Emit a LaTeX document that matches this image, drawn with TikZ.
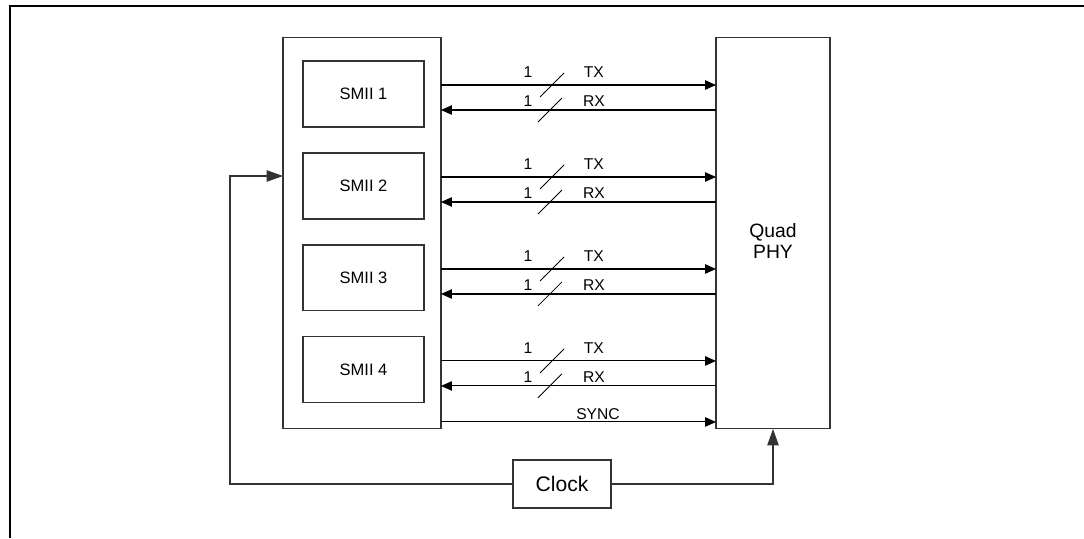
\documentclass[tikz,border=0pt]{standalone}
\usepackage{fontspec}
\setmainfont{Liberation Sans}
\usetikzlibrary{positioning, arrows.meta, calc}

\begin{document}
\begin{tikzpicture}[
			x=0.02cm, y=-0.02cm,
			node distance=0.52cm,
			block/.style={rectangle, draw=black!80, line width=0.6pt, outer sep=0pt, text centered, align=center},
			smii/.style={block, minimum width=2.42cm, minimum height=1.32cm, font=\fontsize{9.4}{11}\selectfont},
			arrow/.style={line width=0.6pt, ->, >={Triangle[length=0.22cm, width=0.19cm]}},
			clkarrow/.style={line width=0.6pt, draw=black!80, ->, >={Triangle[length=0.33cm, width=0.23cm]}},
			bus/.style={line width=0.5pt},
			lbl/.style={font=\fontsize{8.9}{10}\selectfont, inner sep=0pt}
			]
			
			\useasboundingbox (0,0) rectangle (1084,538);
			\draw[line width=1.2pt] (10,538) -- (10,6) -- (1084,6);
			
			% Nodes
			\node[block, minimum width=3.16cm, minimum height=7.84cm] (mac) at (362,233) {};
			\node[block, minimum width=2.28cm, minimum height=7.84cm,
				label={[font=\fontsize{11}{11.5}\selectfont, align=center, yshift=-0.16cm]center:Quad\\PHY}] (phy) at (773,233) {};
			
			\node[smii] (smii1) at (363.5,94) {\raisebox{-0.08cm}{SMII 1}};
			\node[smii, below=of smii1] (smii2) {\raisebox{-0.08cm}{SMII 2}};
			\node[smii, below=of smii2] (smii3) {\raisebox{-0.08cm}{SMII 3}};
			\node[smii, below=of smii3] (smii4) {\raisebox{-0.08cm}{SMII 4}};
			
			\node[block, minimum width=1.96cm, minimum height=0.96cm, font=\fontsize{12}{14}\selectfont] (clock) at (562,484) {Clock};
			
			% Arrows
			\draw[arrow] ($(mac.east |- smii1)+(0,-9)$) -- node[lbl, pos=0.316, above=4.2pt] {1} coordinate[pos=0.404] (tx1) node[lbl, pos=0.556, above=4.2pt] {TX} ($(phy.west |- smii1)+(0,-9)$);
			\draw[arrow] ($(phy.west |- smii1)+(0,16)$) -- node[lbl, pos=0.684, above=1.7pt] {1} coordinate[pos=0.604] (rx1) node[lbl, pos=0.444, above=1.7pt] {RX} ($(mac.east |- smii1)+(0,16)$);
			\draw[bus] (tx1) +(-12,12) -- +(12,-12);
			\draw[bus] (rx1) +(-12,12) -- +(12,-12);
			
			\draw[arrow] ($(mac.east |- smii2)+(0,-9)$) -- node[lbl, pos=0.316, above=4.2pt] {1} coordinate[pos=0.404] (tx2) node[lbl, pos=0.556, above=4.2pt] {TX} ($(phy.west |- smii2)+(0,-9)$);
			\draw[arrow] ($(phy.west |- smii2)+(0,16)$) -- node[lbl, pos=0.684, above=1.7pt] {1} coordinate[pos=0.604] (rx2) node[lbl, pos=0.444, above=1.7pt] {RX} ($(mac.east |- smii2)+(0,16)$);
			\draw[bus] (tx2) +(-12,12) -- +(12,-12);
			\draw[bus] (rx2) +(-12,12) -- +(12,-12);
			
			\draw[arrow] ($(mac.east |- smii3)+(0,-9)$) -- node[lbl, pos=0.316, above=4.2pt] {1} coordinate[pos=0.404] (tx3) node[lbl, pos=0.556, above=4.2pt] {TX} ($(phy.west |- smii3)+(0,-9)$);
			\draw[arrow] ($(phy.west |- smii3)+(0,16)$) -- node[lbl, pos=0.684, above=1.7pt] {1} coordinate[pos=0.604] (rx3) node[lbl, pos=0.444, above=1.7pt] {RX} ($(mac.east |- smii3)+(0,16)$);
			\draw[bus] (tx3) +(-12,12) -- +(12,-12);
			\draw[bus] (rx3) +(-12,12) -- +(12,-12);
			
			\draw[arrow] ($(mac.east |- smii4)+(0,-9)$) -- node[lbl, pos=0.316, above=4.2pt] {1} coordinate[pos=0.404] (tx4) node[lbl, pos=0.556, above=4.2pt] {TX} ($(phy.west |- smii4)+(0,-9)$);
			\draw[arrow] ($(phy.west |- smii4)+(0,16)$) -- node[lbl, pos=0.684, above=1.7pt] {1} coordinate[pos=0.604] (rx4) node[lbl, pos=0.444, above=1.7pt] {RX} ($(mac.east |- smii4)+(0,16)$);
			\draw[bus] (tx4) +(-12,12) -- +(12,-12);
			\draw[bus] (rx4) +(-12,12) -- +(12,-12);
			
			\draw[arrow] ($(mac.south east)+(0,-7)$) -- node[lbl, pos=0.571, above=1.2pt] {SYNC} ($(phy.south west)+(0,-7)$);
			
			\draw[clkarrow] (clock.west) -- ++(-283,0) |- ($(mac.west |- smii2)+(0,-10)$);
			\draw[clkarrow] (clock.east) -| (phy.south);
			
		\end{tikzpicture}
\end{document}
